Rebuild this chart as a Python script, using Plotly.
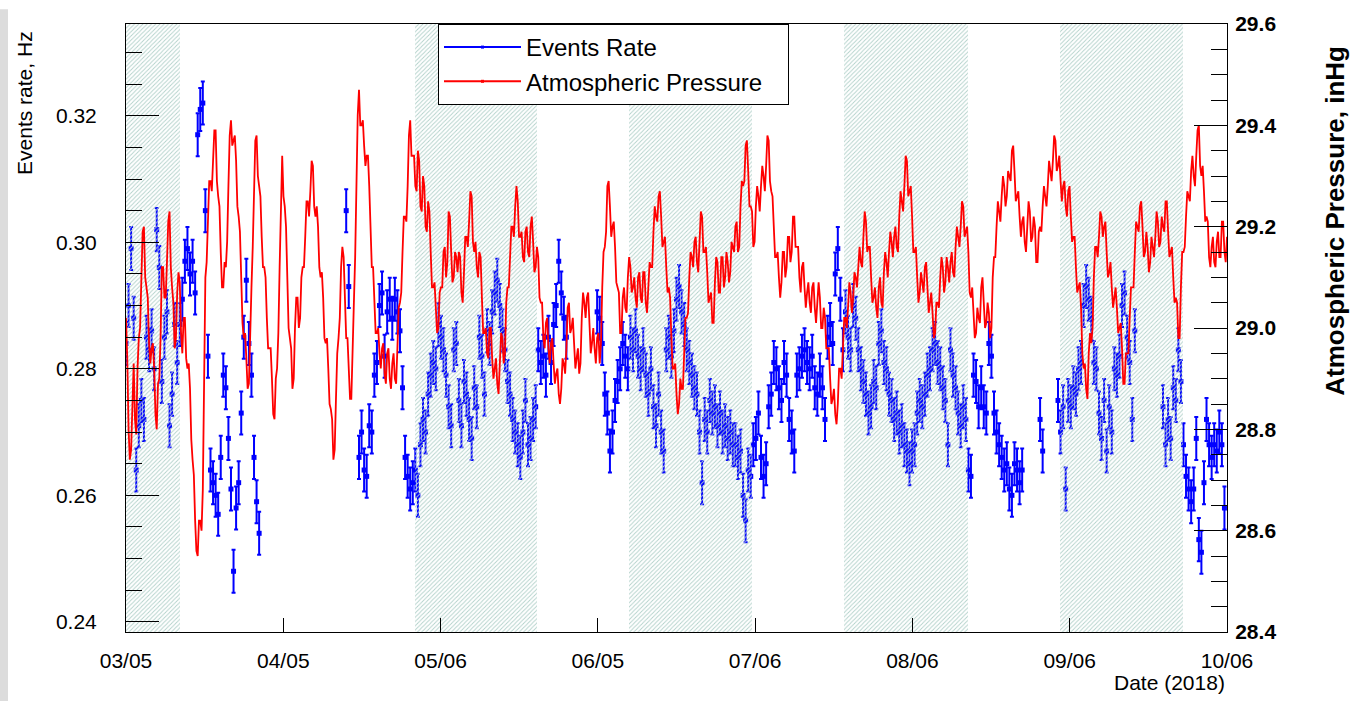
import numpy as np
import pandas as pd
import plotly.graph_objects as go

# ---------------- data ----------------
axis_start = "2018-03-05 00:00"
axis_end = "2018-10-06 00:00"

x_tick_labels = ["03/05", "04/05", "05/06", "06/05", "07/06", "08/06", "09/06", "10/06"]
rate_ticks = [0.24, 0.26, 0.28, 0.30, 0.32]
pressure_ticks = [28.4, 28.6, 28.8, 29.0, 29.2, 29.4, 29.6]

# shaded (hatched) periods
shaded_periods = [
    ("2018-03-05 00:00", "2018-03-15 12:00"),
    ("2018-04-30 10:00", "2018-05-24 07:00"),
    ("2018-06-11 05:00", "2018-07-05 05:00"),
    ("2018-07-23 05:00", "2018-08-16 10:00"),
    ("2018-09-03 10:00", "2018-09-27 10:00"),
]

# atmospheric pressure, inHg, readings at 00:00 and 12:00
pressure_inhg = [
    29.02, 28.80, 28.76, 28.93, 28.79, 28.98, 29.10, 29.20, 29.08, 28.97,
    28.96, 28.92, 28.80, 28.90, 29.12, 29.06, 29.13, 29.23, 29.08, 28.96,
    29.07, 29.09, 28.95, 29.02, 28.92, 28.88, 28.74, 28.62, 28.55, 28.62,
    28.68, 29.10, 29.22, 29.29, 29.33, 29.39, 29.26, 29.15, 29.08, 29.12,
    29.28, 29.41, 29.37, 29.33, 29.22, 29.10, 28.98, 28.94, 28.89, 29.08,
    29.30, 29.38, 29.28, 29.18, 29.12, 29.02, 28.96, 28.90, 28.82, 28.92,
    29.12, 29.34, 29.24, 29.10, 28.98, 28.88, 29.00, 29.06, 29.02, 29.12,
    29.18, 29.25, 29.27, 29.32, 29.22, 29.20, 29.10, 29.06, 28.97, 28.92,
    28.84, 28.74, 28.86, 28.98, 29.12, 29.14, 28.98, 28.92, 28.86, 29.05,
    29.30, 29.47, 29.40, 29.36, 29.34, 29.28, 29.12, 29.06, 28.99, 28.95,
    28.96, 28.91, 28.95, 28.90, 28.93, 28.90, 28.96, 29.05, 29.15, 29.22,
    29.28, 29.41, 29.34, 29.28, 29.35, 29.24, 29.30, 29.20, 29.25, 29.15,
    29.08, 29.04, 29.00, 29.08, 29.15, 29.10, 29.23, 29.15, 29.10, 29.14,
    29.15, 29.07, 29.11, 29.18, 29.21, 29.26, 29.15, 29.12, 29.15, 29.06,
    28.99, 28.95, 29.00, 28.94, 28.92, 28.89, 28.93, 28.98, 28.95, 29.08,
    29.14, 29.20, 29.24, 29.25, 29.18, 29.14, 29.19, 29.15, 29.20, 29.17,
    29.12, 29.14, 29.05, 28.98, 29.01, 28.96, 28.97, 28.93, 28.91, 28.87,
    28.88, 28.93, 28.96, 29.05, 29.00, 28.97, 28.94, 28.91, 29.02, 29.05,
    29.06, 29.01, 28.97, 28.96, 28.98, 28.93, 29.08, 29.16, 29.28, 29.24,
    29.20, 29.16, 29.08, 28.99, 29.06, 29.04, 29.10, 29.12, 29.08, 29.06,
    29.10, 29.06, 29.11, 29.05, 29.08, 29.12, 29.19, 29.22, 29.26, 29.22,
    29.17, 29.12, 29.08, 28.98, 28.92, 28.87, 28.85, 28.88, 28.95, 29.02,
    29.10, 29.14, 29.17, 29.13, 29.17, 29.22, 29.15, 29.11, 29.06, 29.01,
    29.09, 29.13, 29.07, 29.14, 29.10, 29.13, 29.11, 29.16, 29.20, 29.15,
    29.24, 29.28, 29.36, 29.31, 29.24, 29.16, 29.24, 29.26, 29.28, 29.30,
    29.32, 29.37, 29.27, 29.20, 29.14, 29.10, 29.09, 29.15, 29.12, 29.18,
    29.15, 29.22, 29.16, 29.10, 29.12, 29.08, 29.07, 29.05, 29.08, 29.04,
    29.05, 29.06, 29.00, 29.02, 28.96, 28.90, 28.86, 28.83, 28.85, 28.92,
    28.96, 29.02, 29.04, 29.07, 29.06, 29.10, 29.12, 29.13, 29.18, 29.21,
    29.16, 29.10, 29.06, 29.04, 29.08, 29.05, 29.11, 29.13, 29.15, 29.17,
    29.18, 29.16, 29.22, 29.25, 29.28, 29.33, 29.27, 29.22, 29.15, 29.10,
    29.07, 29.09, 29.12, 29.08, 29.05, 29.03, 28.99, 29.05, 29.10, 29.12,
    29.09, 29.12, 29.13, 29.11, 29.16, 29.18, 29.20, 29.24, 29.19, 29.15,
    29.06, 29.03, 28.99, 29.02, 29.08, 29.05, 29.01, 29.03, 29.00, 29.14,
    29.20, 29.23, 29.26, 29.28, 29.26, 29.30, 29.35, 29.31, 29.26, 29.22,
    29.21, 29.17, 29.20, 29.23, 29.18, 29.20, 29.13, 29.20, 29.24, 29.26,
    29.28, 29.31, 29.33, 29.37, 29.32, 29.29, 29.28, 29.24, 29.27, 29.22,
    29.18, 29.12, 29.08, 29.04, 28.92, 28.88, 28.95, 28.97, 29.10, 29.16,
    29.18, 29.22, 29.20, 29.15, 29.11, 29.08, 29.06, 29.04, 29.00, 28.96,
    28.89, 28.95, 29.02, 29.08, 29.15, 29.20, 29.24, 29.20, 29.15, 29.16,
    29.13, 29.16, 29.18, 29.21, 29.17, 29.20, 29.25, 29.19, 29.15, 29.10,
    29.06, 28.98, 29.08, 29.15, 29.22, 29.26, 29.31, 29.30, 29.34, 29.40,
    29.30, 29.27, 29.22, 29.14, 29.16, 29.13, 29.17, 29.14, 29.21, 29.15,
    29.18,
]

# atmospheric pressure, inHg, readings at 06:00 and 18:00 (between the above)
pressure_mid_inhg = [
    28.94, 28.74, 28.88, 28.82, 28.92, 29.00, 29.19, 29.10, 29.06, 28.93,
    28.97, 28.83, 28.89, 28.98, 29.12, 29.06, 29.21, 29.12, 29.05, 28.98,
    29.11, 28.99, 29.02, 28.94, 28.93, 28.78, 28.71, 28.56, 28.62, 28.60,
    28.93, 29.13, 29.29, 29.27, 29.39, 29.29, 29.24, 29.08, 29.13, 29.17,
    29.38, 29.36, 29.38, 29.24, 29.19, 29.01, 28.99, 28.88, 29.02, 29.16,
    29.37, 29.30, 29.26, 29.12, 29.10, 28.96, 28.96, 28.83, 28.90, 28.99,
    29.26, 29.26, 29.20, 29.00, 28.96, 28.90, 29.06, 29.00, 29.10, 29.12,
    29.25, 29.22, 29.33, 29.24, 29.24, 29.12, 29.11, 28.98, 28.98, 28.85,
    28.82, 28.76, 28.95, 29.02, 29.16, 29.03, 28.98, 28.86, 28.99, 29.14,
    29.42, 29.40, 29.41, 29.32, 29.34, 29.17, 29.12, 28.99, 29.00, 28.92,
    28.97, 28.89, 28.96, 28.88, 28.95, 28.89, 29.04, 29.07, 29.22, 29.21,
    29.38, 29.34, 29.34, 29.27, 29.33, 29.23, 29.28, 29.19, 29.23, 29.08,
    29.09, 28.99, 29.07, 29.08, 29.16, 29.13, 29.22, 29.09, 29.15, 29.11,
    29.14, 29.05, 29.18, 29.16, 29.27, 29.17, 29.17, 29.10, 29.14, 28.99,
    29.00, 28.94, 29.00, 28.90, 28.94, 28.87, 28.99, 28.93, 29.05, 29.08,
    29.20, 29.18, 29.28, 29.18, 29.19, 29.13, 29.20, 29.14, 29.22, 29.11,
    29.16, 29.06, 29.05, 28.96, 29.02, 28.93, 28.98, 28.89, 28.92, 28.85,
    28.94, 28.91, 29.04, 28.99, 29.02, 28.92, 28.96, 28.93, 29.07, 29.02,
    29.07, 28.95, 29.00, 28.93, 28.99, 28.97, 29.15, 29.19, 29.29, 29.18,
    29.21, 29.09, 29.07, 28.99, 29.08, 29.03, 29.14, 29.07, 29.10, 29.04,
    29.11, 29.05, 29.11, 29.03, 29.13, 29.12, 29.24, 29.21, 29.27, 29.16,
    29.18, 29.07, 29.06, 28.92, 28.93, 28.83, 28.90, 28.88, 29.02, 29.03,
    29.15, 29.12, 29.18, 29.11, 29.23, 29.15, 29.16, 29.05, 29.07, 29.01,
    29.14, 29.07, 29.14, 29.08, 29.15, 29.09, 29.17, 29.15, 29.21, 29.16,
    29.29, 29.29, 29.37, 29.24, 29.23, 29.17, 29.28, 29.23, 29.32, 29.27,
    29.38, 29.29, 29.26, 29.14, 29.15, 29.06, 29.15, 29.10, 29.18, 29.13,
    29.22, 29.16, 29.16, 29.07, 29.13, 29.04, 29.09, 29.03, 29.09, 29.01,
    29.09, 29.00, 29.04, 28.96, 28.96, 28.85, 28.88, 28.81, 28.92, 28.90,
    29.02, 29.00, 29.09, 29.03, 29.11, 29.08, 29.16, 29.12, 29.23, 29.15,
    29.16, 29.05, 29.08, 29.02, 29.10, 29.04, 29.15, 29.10, 29.19, 29.14,
    29.20, 29.15, 29.27, 29.23, 29.34, 29.26, 29.28, 29.15, 29.16, 29.05,
    29.11, 29.07, 29.13, 29.03, 29.07, 28.98, 29.05, 29.04, 29.14, 29.07,
    29.14, 29.09, 29.15, 29.10, 29.20, 29.16, 29.25, 29.18, 29.20, 29.07,
    29.08, 28.98, 29.04, 29.01, 29.10, 29.00, 29.05, 28.98, 29.10, 29.14,
    29.25, 29.21, 29.30, 29.24, 29.31, 29.29, 29.36, 29.25, 29.27, 29.18,
    29.22, 29.15, 29.25, 29.17, 29.22, 29.13, 29.19, 29.19, 29.28, 29.24,
    29.33, 29.29, 29.38, 29.31, 29.34, 29.25, 29.29, 29.22, 29.28, 29.17,
    29.18, 29.07, 29.09, 28.95, 28.93, 28.86, 28.99, 29.00, 29.16, 29.14,
    29.23, 29.18, 29.21, 29.10, 29.13, 29.04, 29.08, 28.99, 29.01, 28.89,
    28.95, 28.95, 29.08, 29.08, 29.21, 29.19, 29.25, 29.14, 29.19, 29.11,
    29.18, 29.14, 29.23, 29.16, 29.22, 29.19, 29.25, 29.14, 29.16, 29.05,
    29.05, 28.98, 29.15, 29.16, 29.27, 29.25, 29.34, 29.28, 29.39, 29.32,
    29.32, 29.21, 29.21, 29.12, 29.18, 29.12, 29.19, 29.14, 29.21, 29.13,
]

N = None
# events rate, Hz, at 00:00 and 12:00 (None = no data)
events_rate_hz = [
    0.284, 0.290, 0.299, 0.288, 0.264, 0.271, 0.275, 0.272, 0.285, 0.283,
    0.286, 0.280, 0.302, 0.296, 0.278, 0.285, 0.289, 0.271, 0.276, 0.287,
    0.281, 0.287, 0.291, 0.297, 0.299, 0.295, 0.297, 0.292, 0.317, 0.321,
    0.322, 0.305, 0.282, 0.264, 0.262, 0.260, 0.257, 0.266, 0.279, 0.277,
    0.269, 0.261, 0.248, 0.258, 0.262, 0.273, 0.285, 0.294, 0.284, 0.279,
    0.266, 0.259, 0.254, N, N, N, N, N, N, N,
    N, N, N, N, N, N, N, N, N, N,
    N, N, N, N, N, N, N, N, N, N,
    N, N, N, N, N, N, 0.305, 0.293, N, N,
    N, 0.266, 0.270, 0.264, 0.263, 0.271, 0.270, 0.279, 0.281, 0.290,
    0.292, 0.282, 0.289, 0.291, 0.288, 0.291, 0.289, 0.286, 0.277, 0.266,
    0.263, 0.261, 0.262, 0.264, 0.260, 0.268, 0.272, 0.270, 0.276, 0.279,
    0.281, 0.280, 0.287, 0.285, 0.283, 0.279, 0.274, 0.271, 0.283, 0.284,
    0.275, 0.271, 0.278, 0.276, 0.272, 0.269, 0.277, 0.274, 0.285, 0.282,
    0.276, 0.286, 0.284, 0.289, 0.292, 0.294, 0.290, 0.286, 0.283, 0.278,
    0.276, 0.272, 0.270, 0.268, 0.266, 0.270, 0.275, 0.268, 0.269, 0.272,
    0.274, 0.283, 0.281, 0.282, 0.279, 0.285, 0.281, 0.287, 0.290, 0.297,
    0.292, 0.288, 0.285, N, N, N, N, N, N, N,
    N, N, N, N, 0.289, 0.288, 0.284, 0.276, 0.273, 0.267,
    0.270, 0.275, 0.278, 0.280, 0.284, 0.282, 0.280, 0.285, 0.283, 0.286,
    0.282, 0.280, 0.283, 0.279, 0.276, 0.280, 0.274, 0.271, 0.276, 0.270,
    0.267, 0.283, 0.285, 0.282, 0.286, 0.291, 0.293, 0.289, 0.287, 0.283,
    0.281, 0.279, 0.277, 0.276, 0.270, 0.262, 0.272, 0.270, 0.275, 0.273,
    0.274, 0.271, 0.273, 0.270, 0.271, 0.269, 0.270, 0.268, 0.268, 0.266,
    0.267, 0.260, 0.256, 0.264, 0.263, 0.268, 0.269, 0.273, 0.266, 0.263,
    0.265, 0.274, 0.276, 0.281, 0.280, 0.277, 0.275, 0.281, 0.279, 0.272,
    0.270, 0.267, 0.279, 0.280, 0.282, 0.283, 0.281, 0.280, 0.282, 0.277,
    0.276, 0.279, 0.277, 0.272, 0.285, 0.287, 0.284, 0.295, 0.299, 0.291,
    0.283, 0.289, 0.285, 0.283, 0.290, 0.288, 0.283, 0.280, 0.278, 0.276,
    0.273, 0.274, 0.278, 0.277, 0.284, 0.286, 0.281, 0.280, 0.276, 0.275,
    0.272, 0.273, 0.270, 0.271, 0.268, 0.267, 0.265, 0.267, 0.268, 0.273,
    0.275, 0.274, 0.276, 0.279, 0.280, 0.283, 0.284, 0.281, 0.280, 0.277,
    0.275, 0.268, 0.283, 0.279, 0.277, 0.273, 0.271, 0.274, 0.272, 0.264,
    0.263, 0.279, 0.278, 0.274, 0.277, 0.274, 0.273, 0.284, 0.282, 0.273,
    0.270, 0.268, 0.266, 0.264, 0.265, 0.261, 0.260, 0.265, 0.264, 0.262,
    0.264, N, N, N, N, N, N, 0.272, 0.267, N,
    N, N, N, N, 0.275, 0.270, 0.274, 0.261, 0.275, 0.274,
    0.277, 0.276, 0.280, 0.281, 0.290, 0.293, 0.291, 0.288, 0.281, 0.280,
    0.273, 0.269, 0.275, 0.267, 0.274, 0.270, 0.280, 0.279, 0.282, 0.290,
    0.292, 0.285, 0.281, 0.272, 0.286, N, N, N, N, N,
    N, N, N, N, N, 0.274, 0.268, 0.272, 0.269, 0.277,
    0.275, 0.283, 0.278, 0.268, 0.263, 0.261, 0.259, 0.261, 0.269, 0.253,
    0.251, 0.262, 0.272, 0.268, 0.266, 0.268, 0.267, 0.270, 0.268, 0.258,
    N,
]
rate_err_hz = 0.0034

legend_names = ["Events Rate", "Atmospheric Pressure"]

# ---------------- build ----------------
t_rate = pd.date_range(axis_start, periods=len(events_rate_hz), freq="12h")
press_vals = []
for a, m in zip(pressure_inhg[:-1], pressure_mid_inhg):
    press_vals.extend([a, m])
press_vals.append(pressure_inhg[-1])
t_press = pd.date_range(axis_start, periods=len(press_vals), freq="6h")

rate = np.array([np.nan if v is None else v for v in events_rate_hz], dtype=float)
in_shade = np.zeros(len(t_rate), dtype=bool)
for a, b in shaded_periods:
    in_shade |= (t_rate >= pd.Timestamp(a)) & (t_rate <= pd.Timestamp(b))
rate_shade = np.where(in_shade, rate, np.nan)
rate_other = np.where(~in_shade, rate, np.nan)

BLUE = "#0000ff"
RED = "#ff0000"
FONT = "Liberation Sans, Arial, Helvetica, sans-serif"

rate_range = [0.2384, 0.3345]
press_range = [28.4, 29.6]

t0 = pd.Timestamp(axis_start)
t1 = pd.Timestamp(axis_end)
ndiv = len(x_tick_labels) - 1
tickvals = [t0 + (t1 - t0) * k / ndiv for k in range(ndiv + 1)]

fig = go.Figure()


def rate_trace(yv):
    return go.Scatter(
        x=t_rate, y=yv, mode="markers", yaxis="y", showlegend=False,
        marker=dict(symbol="square", size=5, color=BLUE),
        error_y=dict(type="constant", value=rate_err_hz, color=BLUE,
                     thickness=2, width=2),
        hoverinfo="skip",
    )


fig.add_trace(rate_trace(rate_other))
fig.add_trace(rate_trace(rate_shade))

# hatched periods (above the rate points, below the pressure line)
mids, widths = [], []
for a, b in shaded_periods:
    ta, tb = pd.Timestamp(a), pd.Timestamp(b)
    mids.append(ta + (tb - ta) / 2)
    widths.append((tb - ta).total_seconds() * 1000.0)
fig.add_trace(go.Bar(
    x=mids, y=[1] * len(mids), base=0, width=widths, yaxis="y2",
    showlegend=False, hoverinfo="skip",
    marker=dict(color="rgba(0,0,0,0)", line=dict(width=0),
                pattern=dict(shape="/", fgcolor="#b2d1ca", bgcolor="rgba(0,0,0,0)",
                             size=3, solidity=0.3, fillmode="replace")),
))

fig.add_trace(go.Scatter(
    x=t_press, y=press_vals, mode="lines", yaxis="y3", showlegend=False,
    line=dict(color=RED, width=1.8), hoverinfo="skip",
))

# legend entries (trailing no-break spaces widen the box like the original)
pad = "\u00a0" * 3
fig.add_trace(go.Scatter(x=[None], y=[None], mode="lines+markers", name=legend_names[0],
                         legendgroup="a", line=dict(color=BLUE, width=2),
                         marker=dict(symbol="square", size=3, color=BLUE)))
fig.add_trace(go.Scatter(x=[None], y=[None], mode="lines+markers", name=legend_names[1] + pad,
                         legendgroup="b", line=dict(color=RED, width=2),
                         marker=dict(symbol="square", size=3, color=RED)))

W, H = 1355, 702
L, R, T, B = 126, 128, 15, 70
pw, ph = W - L - R, H - T - B


def px_x(x):
    return (x - L) / pw


def px_y(y):
    return (H - B - y) / ph


fig.update_layout(
    width=W, height=H,
    margin=dict(l=L, r=R, t=T, b=B, pad=0),
    paper_bgcolor="white", plot_bgcolor="white",
    font=dict(family=FONT, color="black", size=21),
    xaxis=dict(
        type="date", range=[t0, t1], tickvals=tickvals, ticktext=x_tick_labels,
        ticks="inside", ticklen=14, tickcolor="black", tickwidth=1,
        showline=True, linecolor="black", linewidth=1, mirror=True,
        showgrid=False, zeroline=False, tickfont=dict(size=21),
        ticklabelstandoff=10,
    ),
    yaxis=dict(
        range=rate_range, tickvals=rate_ticks, tickformat=".2f",
        ticks="inside", ticklen=33, tickcolor="black", tickwidth=1,
        minor=dict(dtick=0.005, ticks="inside", ticklen=16, tickcolor="black", showgrid=False),
        showline=True, linecolor="black", linewidth=1,
        showgrid=False, zeroline=False, tickfont=dict(size=21),
        ticklabelstandoff=24,
    ),
    yaxis2=dict(overlaying="y", range=[0, 1], visible=False, fixedrange=True),
    yaxis3=dict(
        overlaying="y", side="right", range=press_range, tickvals=pressure_ticks,
        tickformat=".1f", ticks="inside", ticklen=33, tickcolor="black", tickwidth=1,
        minor=dict(dtick=0.05, ticks="inside", ticklen=16, tickcolor="black", showgrid=False),
        showline=True, linecolor="black", linewidth=1,
        showgrid=False, zeroline=False,
        tickfont=dict(size=21, weight="bold"), ticklabelstandoff=3,
    ),
    legend=dict(
        x=px_x(438), y=px_y(15), xanchor="left", yanchor="top",
        bgcolor="white", bordercolor="black", borderwidth=1,
        font=dict(size=24), itemwidth=77, tracegroupgap=0,
        traceorder="grouped",
    ),
    bargap=0,
    shapes=[dict(type="rect", xref="paper", yref="paper",
                 x0=px_x(0), x1=px_x(8), y0=px_y(H), y1=px_y(0),
                 fillcolor="#dcdcdc", line=dict(width=0), layer="below")],
    annotations=[
        dict(text="Events rate, Hz", xref="paper", yref="paper",
             x=px_x(25), y=px_y(20), xanchor="center", yanchor="top",
             textangle=-90, showarrow=False, font=dict(size=21)),
        dict(text="Atmospheric Pressure, inHg", xref="paper", yref="paper",
             x=px_x(1335), y=px_y(35), xanchor="center", yanchor="top",
             textangle=-90, showarrow=False, font=dict(size=26, weight="bold")),
        dict(text="Date (2018)", xref="paper", yref="paper",
             x=1, y=px_y(683), xanchor="right", yanchor="middle",
             showarrow=False, font=dict(size=21)),
    ],
)

fig.write_html("out.html")
